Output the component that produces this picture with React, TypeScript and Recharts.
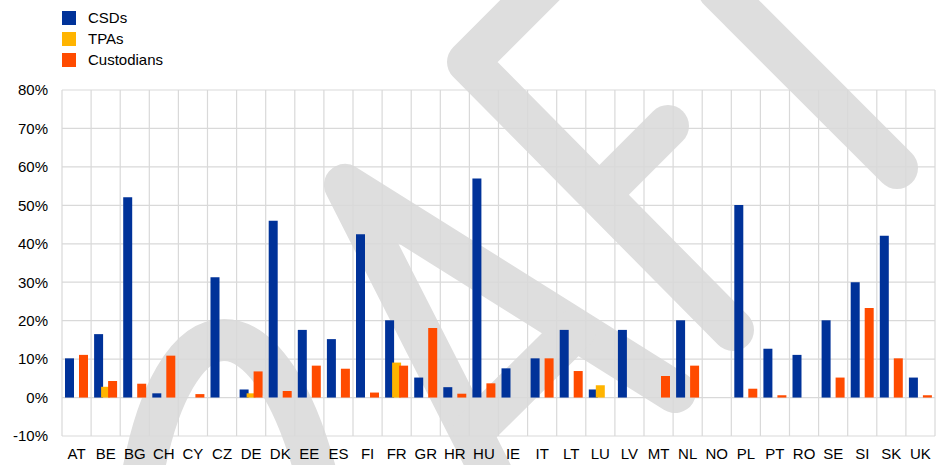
import React from 'react';
import { BarChart, Bar, XAxis, YAxis, CartesianGrid } from 'recharts';

const countries = [
  'AT', 'BE', 'BG', 'CH', 'CY', 'CZ', 'DE', 'DK', 'EE', 'ES',
  'FI', 'FR', 'GR', 'HR', 'HU', 'IE', 'IT', 'LT', 'LU', 'LV',
  'MT', 'NL', 'NO', 'PL', 'PT', 'RO', 'SE', 'SI', 'SK', 'UK',
];

// shares in %
const csds = [
  10.2, 16.5, 52.1, 1.1, 0, 31.3, 2.1, 46.0, 17.6, 15.2,
  42.5, 20.1, 5.2, 2.7, 57.0, 7.6, 10.2, 17.6, 2.1, 17.6,
  0, 20.1, 0, 50.1, 12.7, 11.1, 20.1, 30.0, 42.1, 5.2,
];
const tpas = [
  0, 2.8, 0, 0, 0, 0, 1.1, 0, 0, 0,
  0, 9.1, 0, 0, 0, 0, 0, 0, 3.2, 0,
  0, 0, 0, 0, 0, 0, 0, 0, 0, 0,
];
const custodians = [
  11.1, 4.3, 3.6, 10.9, 0.9, 0, 6.8, 1.7, 8.3, 7.5,
  1.3, 8.3, 18.1, 1.0, 3.7, 0, 10.2, 6.9, 0, 0,
  5.6, 8.3, 0, 2.3, 0.6, 0, 5.2, 23.3, 10.2, 0.6,
];

const yTicks = [-10, 0, 10, 20, 30, 40, 50, 60, 70, 80];

const series = [
  { key: 'csds', name: 'CSDs', color: '#003299' },
  { key: 'tpas', name: 'TPAs', color: '#FFB400' },
  { key: 'custodians', name: 'Custodians', color: '#FF4B00' },
];

const data = countries.map((c, i) => ({
  country: c,
  csds: csds[i],
  tpas: tpas[i],
  custodians: custodians[i],
}));

const FONT = '"Liberation Sans", Arial, sans-serif';

// background "draft" style watermark
const Watermark = () => (
  <svg width={939} height={465} style={{ position: 'absolute', left: 0, top: 0 }}>
    <g fill="none" stroke="#dedede" strokeWidth={42} strokeLinecap="round" strokeLinejoin="round">
      <path d="M 140 490 C 172 290, 272 290, 320 490" />
      <path d="M 500 490 L 345 185 L 675 392" />
      <path d="M 474 430 L 575 330" />
      <path d="M 545 -15 L 468 62 L 733 330" />
      <path d="M 601 193 L 668 126" />
      <path d="M 719 -10 L 897 168" />
    </g>
  </svg>
);

export default function App() {
  return (
    <div
      style={{
        position: 'absolute',
        left: 0,
        top: 0,
        width: 939,
        height: 465,
        background: '#fff',
        fontFamily: FONT,
        overflow: 'hidden',
      }}
    >
      <Watermark />
      <div style={{ position: 'absolute', left: 0, top: 0 }}>
        <BarChart
          width={939}
          height={465}
          data={data}
          margin={{ top: 90, right: 4, left: 0, bottom: 0 }}
          barSize={9}
          barGap={-2}
        >
          <CartesianGrid
            stroke="#d9d9d9"
            strokeWidth={1.2}
            verticalCoordinatesGenerator={({ offset }: any) =>
              Array.from({ length: countries.length + 1 }, (_, i) => offset.left + (i * offset.width) / countries.length)
            }
          />
          <XAxis
            dataKey="country"
            interval={0}
            tickLine={false}
            axisLine={false}
            tickSize={0}
            tickMargin={12}
            height={29}
            tick={{ fontSize: 15, fill: '#000', fontFamily: FONT }}
          />
          <YAxis
            domain={[-10, 80]}
            ticks={yTicks}
            width={62}
            tickLine={false}
            axisLine={false}
            tickSize={0}
            tickMargin={14}
            tickFormatter={(v: number) => `${v}%`}
            tick={{ fontSize: 15, fill: '#000', fontFamily: FONT }}
          />
          {series.map((s) => (
            <Bar key={s.key} dataKey={s.key} name={s.name} fill={s.color} isAnimationActive={false} />
          ))}
        </BarChart>
      </div>
      <div style={{ position: 'absolute', left: 62, top: 11 }}>
        {series.map((s) => (
          <div key={s.key} style={{ display: 'flex', alignItems: 'center', height: 14, marginBottom: 7 }}>
            <span style={{ width: 14, height: 14, background: s.color, display: 'inline-block' }} />
            <span style={{ marginLeft: 12, fontSize: 15, color: '#000', lineHeight: '14px' }}>{s.name}</span>
          </div>
        ))}
      </div>
    </div>
  );
}
